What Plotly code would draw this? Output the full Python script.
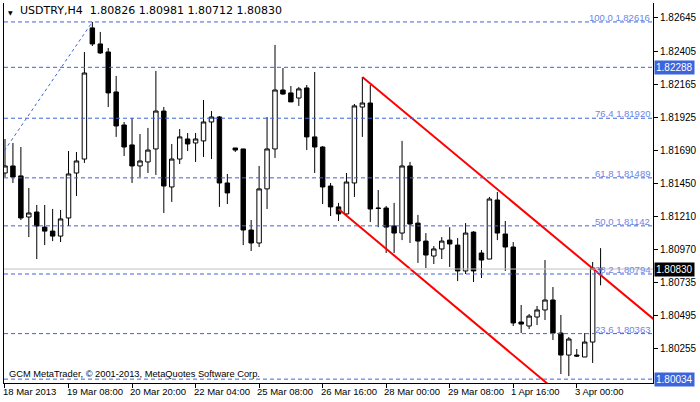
import plotly.graph_objects as go

symbol = "USDTRY,H4"
opens = [1.81524,1.81575,1.81503,1.81206,1.81242,1.81133,1.81104,1.81068,1.81199,1.81524,
         1.81625,1.82573,1.82457,1.82399,1.82110,1.81871,1.81727,1.81575,1.81604,1.81698,
         1.81972,1.81423,1.81625,1.81770,1.81741,1.81756,1.81893,1.81929,1.81452,1.81705,
         1.81698,1.81112,1.81018,1.81409,1.81698,1.82124,1.82103,1.82066,1.82139,1.81785,
         1.81712,1.81430,1.81279,1.81228,1.81452,1.82001,1.82030,1.81271,1.81271,1.81141,
         1.81090,1.81575,1.81162,1.81032,1.80924,1.80975,1.81039,1.81003,1.80816,1.81097,
         1.80946,1.80902,1.81329,1.81083,1.80989,1.80447,1.80418,1.80483,1.80534,1.80606,
         1.80367,1.80208,1.80208,1.80194,1.80302,1.80826]
highs = [1.81770,1.81741,1.81712,1.81416,1.81293,1.81293,1.81264,1.81257,1.81683,1.81676,
         1.82399,1.82616,1.82544,1.82428,1.82226,1.81893,1.81922,1.81806,1.81850,1.82262,
         1.82001,1.81734,1.81842,1.81813,1.81813,1.82052,1.81972,1.81936,1.81517,1.81705,
         1.81698,1.81184,1.81575,1.81929,1.82450,1.82283,1.82153,1.82146,1.82160,1.82254,
         1.81719,1.81452,1.81308,1.81524,1.82023,1.82218,1.82160,1.81401,1.81286,1.81308,
         1.81756,1.81604,1.81221,1.81090,1.80996,1.81061,1.81133,1.81054,1.81162,1.81104,
         1.80967,1.81351,1.81387,1.81177,1.81025,1.80570,1.80505,1.80563,1.80895,1.80700,
         1.80498,1.80338,1.80252,1.80367,1.80881,1.80981]
lows = [1.81495,1.81452,1.81184,1.81061,1.80902,1.81003,1.81032,1.81025,1.81141,1.81358,
        1.81597,1.82442,1.82385,1.82001,1.81785,1.81647,1.81452,1.81495,1.81524,1.81510,
        1.81235,1.81315,1.81589,1.81683,1.81604,1.81640,1.81625,1.81279,1.81300,1.81676,
        1.81003,1.80960,1.80989,1.81264,1.81633,1.82088,1.82038,1.82009,1.81690,1.81524,
        1.81300,1.81213,1.81177,1.81221,1.81351,1.81785,1.81170,1.81133,1.80946,1.80946,
        1.81039,1.81018,1.80874,1.80837,1.80866,1.80902,1.80845,1.80743,1.80794,1.80736,
        1.80765,1.80902,1.81039,1.80816,1.80418,1.80367,1.80396,1.80425,1.80461,1.80317,
        1.80071,1.80056,1.80194,1.80194,1.80151,1.80712]
closes = [1.81575,1.81495,1.81199,1.81235,1.81141,1.81104,1.81068,1.81192,1.81517,1.81611,
          1.82247,1.82457,1.82392,1.82103,1.81864,1.81712,1.81575,1.81611,1.81690,1.81972,
          1.81430,1.81625,1.81785,1.81734,1.81770,1.81893,1.81929,1.81452,1.81380,1.81690,
          1.81112,1.81018,1.81409,1.81698,1.82124,1.82095,1.82038,1.82132,1.81785,1.81712,
          1.81423,1.81279,1.81228,1.81459,1.82009,1.82030,1.81264,1.81268,1.81133,1.81090,
          1.81575,1.81155,1.81032,1.80931,1.80975,1.81032,1.81011,1.80816,1.81090,1.80816,
          1.80895,1.81336,1.81090,1.80989,1.80440,1.80432,1.80490,1.80534,1.80606,1.80367,
          1.80208,1.80324,1.80201,1.80302,1.80837,1.80830]

tick_pos = [0, 8, 16, 24, 32, 40, 48, 56, 64, 72]
tick_labels = ["18 Mar 2013", "19 Mar 08:00", "20 Mar 20:00", "22 Mar 04:00", "25 Mar 08:00",
               "26 Mar 16:00", "28 Mar 00:00", "29 Mar 08:00", "1 Apr 16:00", "3 Apr 00:00"]
y_ticks = [1.82645, 1.82405, 1.82165, 1.81925, 1.81690, 1.81450, 1.81210, 1.80970,
           1.80735, 1.80495, 1.80255]
fib_levels = [100.0, 76.4, 61.8, 50.0, 38.2, 23.6, 0.0]
fib_prices = [1.82616, 1.81920, 1.81489, 1.81142, 1.80794, 1.80363, 1.80034]
hline_price = 1.82288
upper_channel_x = [45, 82]
upper_channel_y = [1.82218, 1.80452]
lower_channel_x = [42, 82]
lower_channel_y = [1.81264, 1.79344]
fib_trend_x = [-0.5, 11]
fib_trend_y = [1.81650, 1.82616]

n = len(opens)
xs = list(range(n))
BLUE = "#3c64dc"
FONT = "Liberation Sans"
fig = go.Figure()

for lv, p in zip(fib_levels, fib_prices):
    fig.add_hline(y=p, line=dict(color=BLUE, width=1, dash="4px,3px"))
    if lv > 0:
        fig.add_annotation(x=1, xref="paper", y=p, yref="y", text=f"{lv:.1f} {p:.5f}",
                           showarrow=False, xanchor="right", yanchor="bottom", yshift=-3, xshift=-1,
                           font=dict(family=FONT, size=9.5, color="#6a86e8"))
fig.add_hline(y=hline_price, line=dict(color=BLUE, width=1, dash="4px,3px"))
fig.add_hline(y=closes[-1], line=dict(color="#c0c0c0", width=1))

fig.add_trace(go.Scatter(x=fib_trend_x, y=fib_trend_y, mode="lines",
                         line=dict(color=BLUE, width=1, dash="dot"), hoverinfo="skip"))

fig.add_trace(go.Candlestick(
    x=xs, open=opens, high=highs, low=lows, close=closes,
    increasing=dict(line=dict(color="black", width=1), fillcolor="white"),
    decreasing=dict(line=dict(color="black", width=1), fillcolor="black"),
    whiskerwidth=0))

fig.add_trace(go.Scatter(x=upper_channel_x, y=upper_channel_y, mode="lines",
                         line=dict(color="#ff0000", width=2), hoverinfo="skip"))
fig.add_trace(go.Scatter(x=lower_channel_x, y=lower_channel_y, mode="lines",
                         line=dict(color="#ff0000", width=2), hoverinfo="skip"))

for p, bg in [(hline_price, BLUE), (fib_prices[-1], BLUE), (closes[-1], "black")]:
    fig.add_annotation(x=1, xref="paper", y=p, yref="y", text=f"{p:.5f}", showarrow=False,
                       xanchor="left", xshift=1, bgcolor=bg, borderpad=1,
                       font=dict(family=FONT, size=10, color="white"))

for tp, tl in zip(tick_pos, tick_labels):
    fig.add_annotation(x=tp, xref="x", y=0, yref="paper", text=tl, showarrow=False,
                       xanchor="left", yanchor="top", yshift=-1, xshift=-4,
                       font=dict(family=FONT, size=9.5, color="black"))

fig.add_annotation(x=0.005, xref="paper", y=0.005, yref="paper",
                   text="GCM MetaTrader, © 2001-2013, MetaQuotes Software Corp.",
                   showarrow=False, xanchor="left", yanchor="bottom",
                   font=dict(family=FONT, size=9.3, color="black"))
fig.add_annotation(x=0.022, xref="paper", y=1, yref="paper",
                   text=f"{symbol}  {opens[-1]:.5f} {highs[-1]:.5f} {lows[-1]:.5f} {closes[-1]:.5f}",
                   showarrow=False, xanchor="left", yanchor="top", yshift=1,
                   font=dict(family="DejaVu Sans", size=11, color="black"))
fig.add_annotation(x=0.003, xref="paper", y=1, yref="paper", text="▼", showarrow=False,
                   xanchor="left", yanchor="top", yshift=-4,
                   font=dict(family="DejaVu Sans", size=6, color="black"))

fig.update_layout(
    width=700, height=402, margin=dict(l=3, r=43, t=3, b=19),
    paper_bgcolor="white", plot_bgcolor="white", showlegend=False, boxgap=0.2,
    xaxis=dict(range=[-0.125, 81.6], tickvals=tick_pos, showticklabels=False,
               ticks="outside", ticklen=4, tickcolor="black", showgrid=False,
               zeroline=False, showline=True, linecolor="black", linewidth=1,
               rangeslider=dict(visible=False)),
    yaxis=dict(range=[1.80006, 1.82753], side="right", tickvals=y_ticks,
               ticktext=[f"{v:.5f}" for v in y_ticks], ticks="outside", ticklen=4,
               tickcolor="black", showgrid=False, zeroline=False, showline=True,
               linecolor="black", linewidth=1, mirror=True,
               tickfont=dict(family=FONT, size=10, color="black")),
)
fig.write_html("out.html", config={"displayModeBar": False},
               post_script="document.body.style.margin='0';document.body.style.overflow='hidden';")
